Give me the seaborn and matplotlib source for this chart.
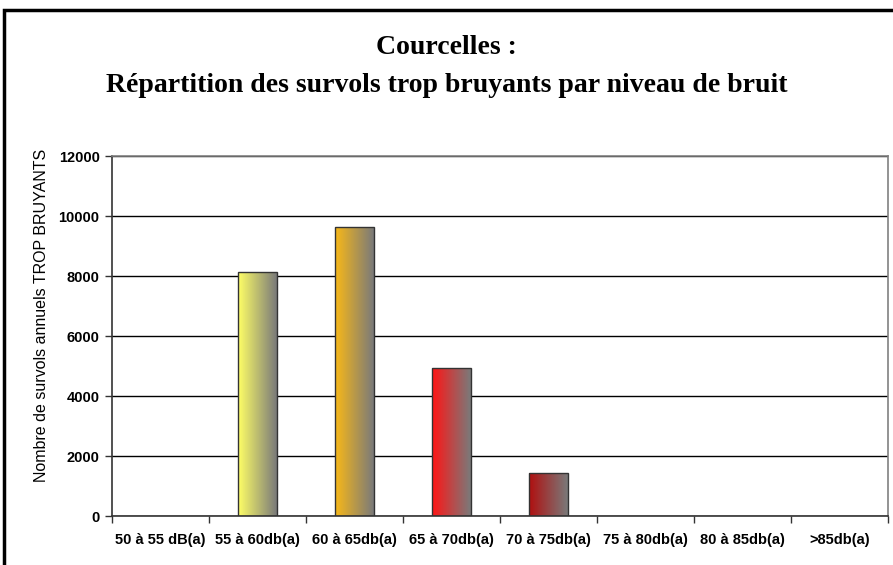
import numpy as np
import pandas as pd
import matplotlib
matplotlib.use("Agg")
import matplotlib.pyplot as plt
from matplotlib.colors import LinearSegmentedColormap
from matplotlib.patches import Rectangle
import seaborn as sns

# =========================
# Data
# =========================
categories = ["50 à 55 dB(a)", "55 à 60db(a)", "60 à 65db(a)", "65 à 70db(a)",
              "70 à 75db(a)", "75 à 80db(a)", "80 à 85db(a)", ">85db(a)"]
survols = [0, 8150, 9650, 4950, 1420, 0, 0, 0]
bar_colors = ["#ffff66", "#ffff66", "#f8b818", "#ff1515", "#b01010",
              "#b01010", "#b01010", "#b01010"]
yticks = [0, 2000, 4000, 6000, 8000, 10000, 12000]

df = pd.DataFrame({"niveau": categories, "survols": survols})

# =========================
# Figure
# =========================
sns.set_theme(style="white")
plt.rcParams["font.family"] = ["Liberation Sans", "DejaVu Sans"]
plt.rcParams["text.color"] = "black"
plt.rcParams["axes.labelcolor"] = "black"
plt.rcParams["xtick.color"] = "black"
plt.rcParams["ytick.color"] = "black"

fig = plt.figure(figsize=(8.93, 5.65), dpi=100)
ax = fig.add_axes([112 / 893, 49 / 565, 776 / 893, 360 / 565])

sns.barplot(data=df, x="niveau", y="survols", width=0.4, color="white",
            edgecolor="#333333", linewidth=1.0, ax=ax, zorder=3)

# gradient fill: colour on the left, grey on the right
for patch, c in zip(ax.patches, bar_colors):
    x0, y0 = patch.get_x(), patch.get_y()
    w, h = patch.get_width(), patch.get_height()
    if h <= 0:
        patch.set_visible(False)
        continue
    patch.set_facecolor("none")
    cmap = LinearSegmentedColormap.from_list("g", [c, "#7a7a7a"])
    grad = np.linspace(0, 1, 100).reshape(1, -1)
    im = ax.imshow(grad, cmap=cmap, aspect="auto", extent=[x0, x0 + w, y0, y0 + h],
                   zorder=2.5)
    im.set_clip_path(patch)

ax.set_xlim(-0.5, len(categories) - 0.5)
ax.set_ylim(0, 12000)
ax.set_yticks(yticks)
ax.set_yticklabels([str(v) for v in yticks], fontsize=10.5, fontweight="bold")
ax.set_xticks(range(len(categories)))
ax.set_xticklabels(categories, fontsize=10.5, fontweight="bold")
ax.set_xticks(np.arange(-0.5, len(categories), 1), minor=True)
ax.tick_params(axis="x", which="major", length=0, pad=12)
ax.tick_params(axis="x", which="minor", length=5, width=1, color="#333333",
               direction="out", bottom=True)
ax.tick_params(axis="y", length=5, width=1, color="#333333", direction="out",
               left=True, pad=4)
ax.yaxis.grid(True, color="black", linewidth=1.0, zorder=0)
ax.set_axisbelow(True)

ax.set_xlabel("")
ax.set_ylabel("Nombre de survols annuels TROP BRUYANTS", fontsize=11.5)
ax.yaxis.set_label_coords(-0.081, 0.556)

for side in ["left", "bottom"]:
    ax.spines[side].set_color("#333333")
    ax.spines[side].set_linewidth(1.2)
for side in ["top", "right"]:
    ax.spines[side].set_color("#808080")
    ax.spines[side].set_linewidth(1.2)

# =========================
# Titles and frame
# =========================
fig.text(0.5, 1 - 47 / 565, "Courcelles :", ha="center", va="center",
         fontsize=20, fontweight="bold", family=["Liberation Serif"])
fig.text(0.5, 1 - 85 / 565,
         "Répartition des survols trop bruyants par niveau de bruit",
         ha="center", va="center", fontsize=20, fontweight="bold",
         family=["Liberation Serif"])

fig.patches.append(Rectangle((4 / 893, -0.1), 1.2, 1.1 - 10 / 565,
                             transform=fig.transFigure, fill=False,
                             edgecolor="black", linewidth=2.5))

fig.savefig("out.png", dpi=100)
